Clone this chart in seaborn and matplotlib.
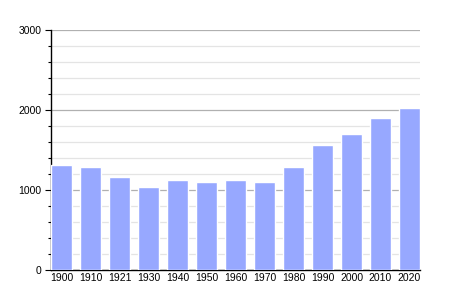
import matplotlib
matplotlib.use("Agg")
import matplotlib.pyplot as plt
import seaborn as sns
import pandas as pd
from matplotlib.ticker import MultipleLocator

years = ["1900", "1910", "1921", "1930", "1940", "1950", "1960", "1970",
         "1980", "1990", "2000", "2010", "2020"]
population = [1312, 1290, 1166, 1041, 1129, 1104, 1129, 1100,
              1287, 1562, 1700, 1900, 2025]

df = pd.DataFrame({"year": years, "pop": population})

sns.set_theme(style="white")
plt.rcParams['font.family'] = ['Liberation Sans', 'DejaVu Sans']

fig = plt.figure(figsize=(4.5, 3.0), dpi=100)
ax = fig.add_axes([51/450, 30/300, 369/450, 240/300])

sns.barplot(data=df, x="year", y="pop", color="#97a8ff", saturation=1,
            width=0.72, ax=ax, zorder=3)

ax.set_ylim(0, 3000)
ax.set_xlim(-0.36, 12.36)
ax.yaxis.set_major_locator(MultipleLocator(1000))
ax.yaxis.set_minor_locator(MultipleLocator(200))
ax.grid(axis="y", which="minor", color="#e4e4e4", linewidth=0.9, zorder=0)
ax.grid(axis="y", which="major", color="#b0b0b0", linewidth=0.9, zorder=0)
ax.set_axisbelow(True)

for s in ["top", "right"]:
    ax.spines[s].set_visible(False)
for s in ["left", "bottom"]:
    ax.spines[s].set_color("black")
    ax.spines[s].set_linewidth(1.0)

ax.tick_params(axis="y", which="major", direction="out", length=4, width=0.8,
               colors="black", labelsize=7.5, left=True, pad=3)
ax.tick_params(axis="y", which="minor", direction="out", length=2.5, width=0.8,
               colors="black", left=True)
ax.tick_params(axis="x", length=0, labelsize=7.5, pad=2, colors="black")
ax.set_xlabel("")
ax.set_ylabel("")

fig.savefig("out.png", dpi=100)
